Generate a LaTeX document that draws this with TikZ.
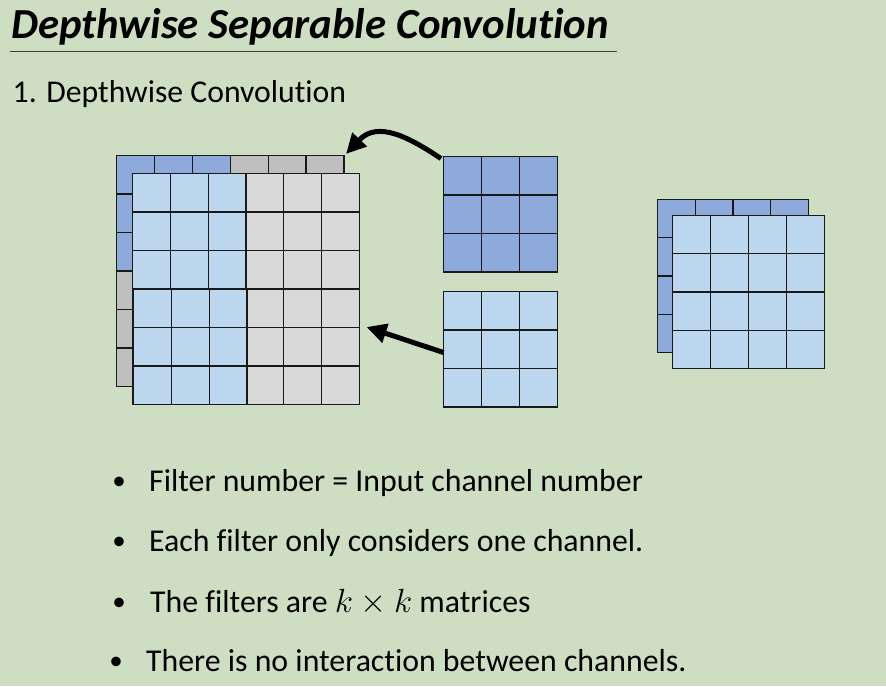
\documentclass[tikz,border=0pt]{standalone}
\usepackage{fix-cm}
\usepackage{fontspec}
\setmainfont{Carlito}[Ligatures=NoCommon]
\usetikzlibrary{arrows.meta}
\definecolor{bg}{RGB}{206,222,194}
\definecolor{dblue}{RGB}{142,170,219}
\definecolor{lblue}{RGB}{189,215,238}
\definecolor{dgray}{RGB}{191,191,191}
\definecolor{lgray}{RGB}{217,217,217}
\definecolor{edge}{RGB}{25,25,25}
\tikzset{
  cellline/.style={draw=edge, line width=1.2pt},
  bigarrow/.style={line width=5pt, -{Triangle[length=20pt,width=19pt]}},
  txt/.style={anchor=base west, inner sep=0pt, font=\fontsize{31.8}{36}\selectfont},
  bul/.style={anchor=center, inner sep=0pt, font=\fontsize{27}{30}\selectfont},
}
\newcommand\drawcells[7]{%
  \foreach \ci in {1,...,#3}{%
    \foreach \cj in {1,...,#4}{%
      \draw[cellline, fill=#7] ({#1+(\ci-1)*#5},{#2+(\cj-1)*#6}) rectangle ({#1+\ci*#5},{#2+\cj*#6});
    }%
  }%
}
\begin{document}
\begin{tikzpicture}[x=1pt,y=-1pt]
\useasboundingbox (0,0) rectangle (886,686);
\fill[bg] (0,0) rectangle (886,686);

% title
\node[anchor=base west, inner sep=0pt, font=\fontsize{42.8}{47}\selectfont\bfseries\itshape] (title) at (11,38.5) {Depthwise Separable Convolution};
\draw[draw={rgb,255:red,64;green,64;blue,64}, line width=1.3pt] (10,51.7) -- (617,51.7);
\node[anchor=base west, inner sep=0pt, font=\fontsize{31.7}{36}\selectfont] (sub) at (12.5,102.5) {1. Depthwise Convolution};

% left input: back layer
\drawcells{116.5}{155.5}{6}{6}{37.9}{38.5}{dgray}
\drawcells{116.5}{155.5}{3}{3}{37.9}{38.5}{dblue}
% left input: front layer
\drawcells{132.5}{173.5}{6}{6}{37.8}{38.5}{lgray}
\drawcells{132.5}{173.5}{3}{3}{37.8}{38.5}{lblue}
\drawcells{133.5}{289}{3}{3}{37.8}{38.5}{lblue}

% filters
\drawcells{443.5}{156.5}{3}{3}{38}{38.5}{dblue}
\drawcells{443.5}{291.5}{3}{3}{38}{38.5}{lblue}

% right output
\drawcells{657.5}{199.5}{4}{4}{37.7}{38.2}{dblue}
\drawcells{672.5}{215.5}{4}{4}{38}{38.2}{lblue}

% arrows
\coordinate (f1) at (441,158.5);
\coordinate (in1) at (346,154);
\coordinate (f2) at (443.5,352.5);
\coordinate (in2) at (366.5,327);
\draw[bigarrow] (f1) .. controls (410,138) and (378,120) .. (in1);
\draw[bigarrow] (f2) -- (in2);

% bullets
\node[bul] (b1) at (119,483.5) {•};
\node[txt] (t1) at (149,491.7) {Filter number = Input channel number};
\node[bul] (b2) at (119,543) {•};
\node[txt] (t2) at (149,551) {Each filter only considers one channel.};
\node[bul] (b3) at (119,604) {•};
\node[txt] (t3) at (150,612.3) {The filters are {\fontsize{33.5}{38}\selectfont$k\times k$} matrices};
\node[bul] (b4) at (116,663.5) {•};
\node[txt] (t4) at (146,671.7) {There is no interaction between channels.};
\end{tikzpicture}
\end{document}
